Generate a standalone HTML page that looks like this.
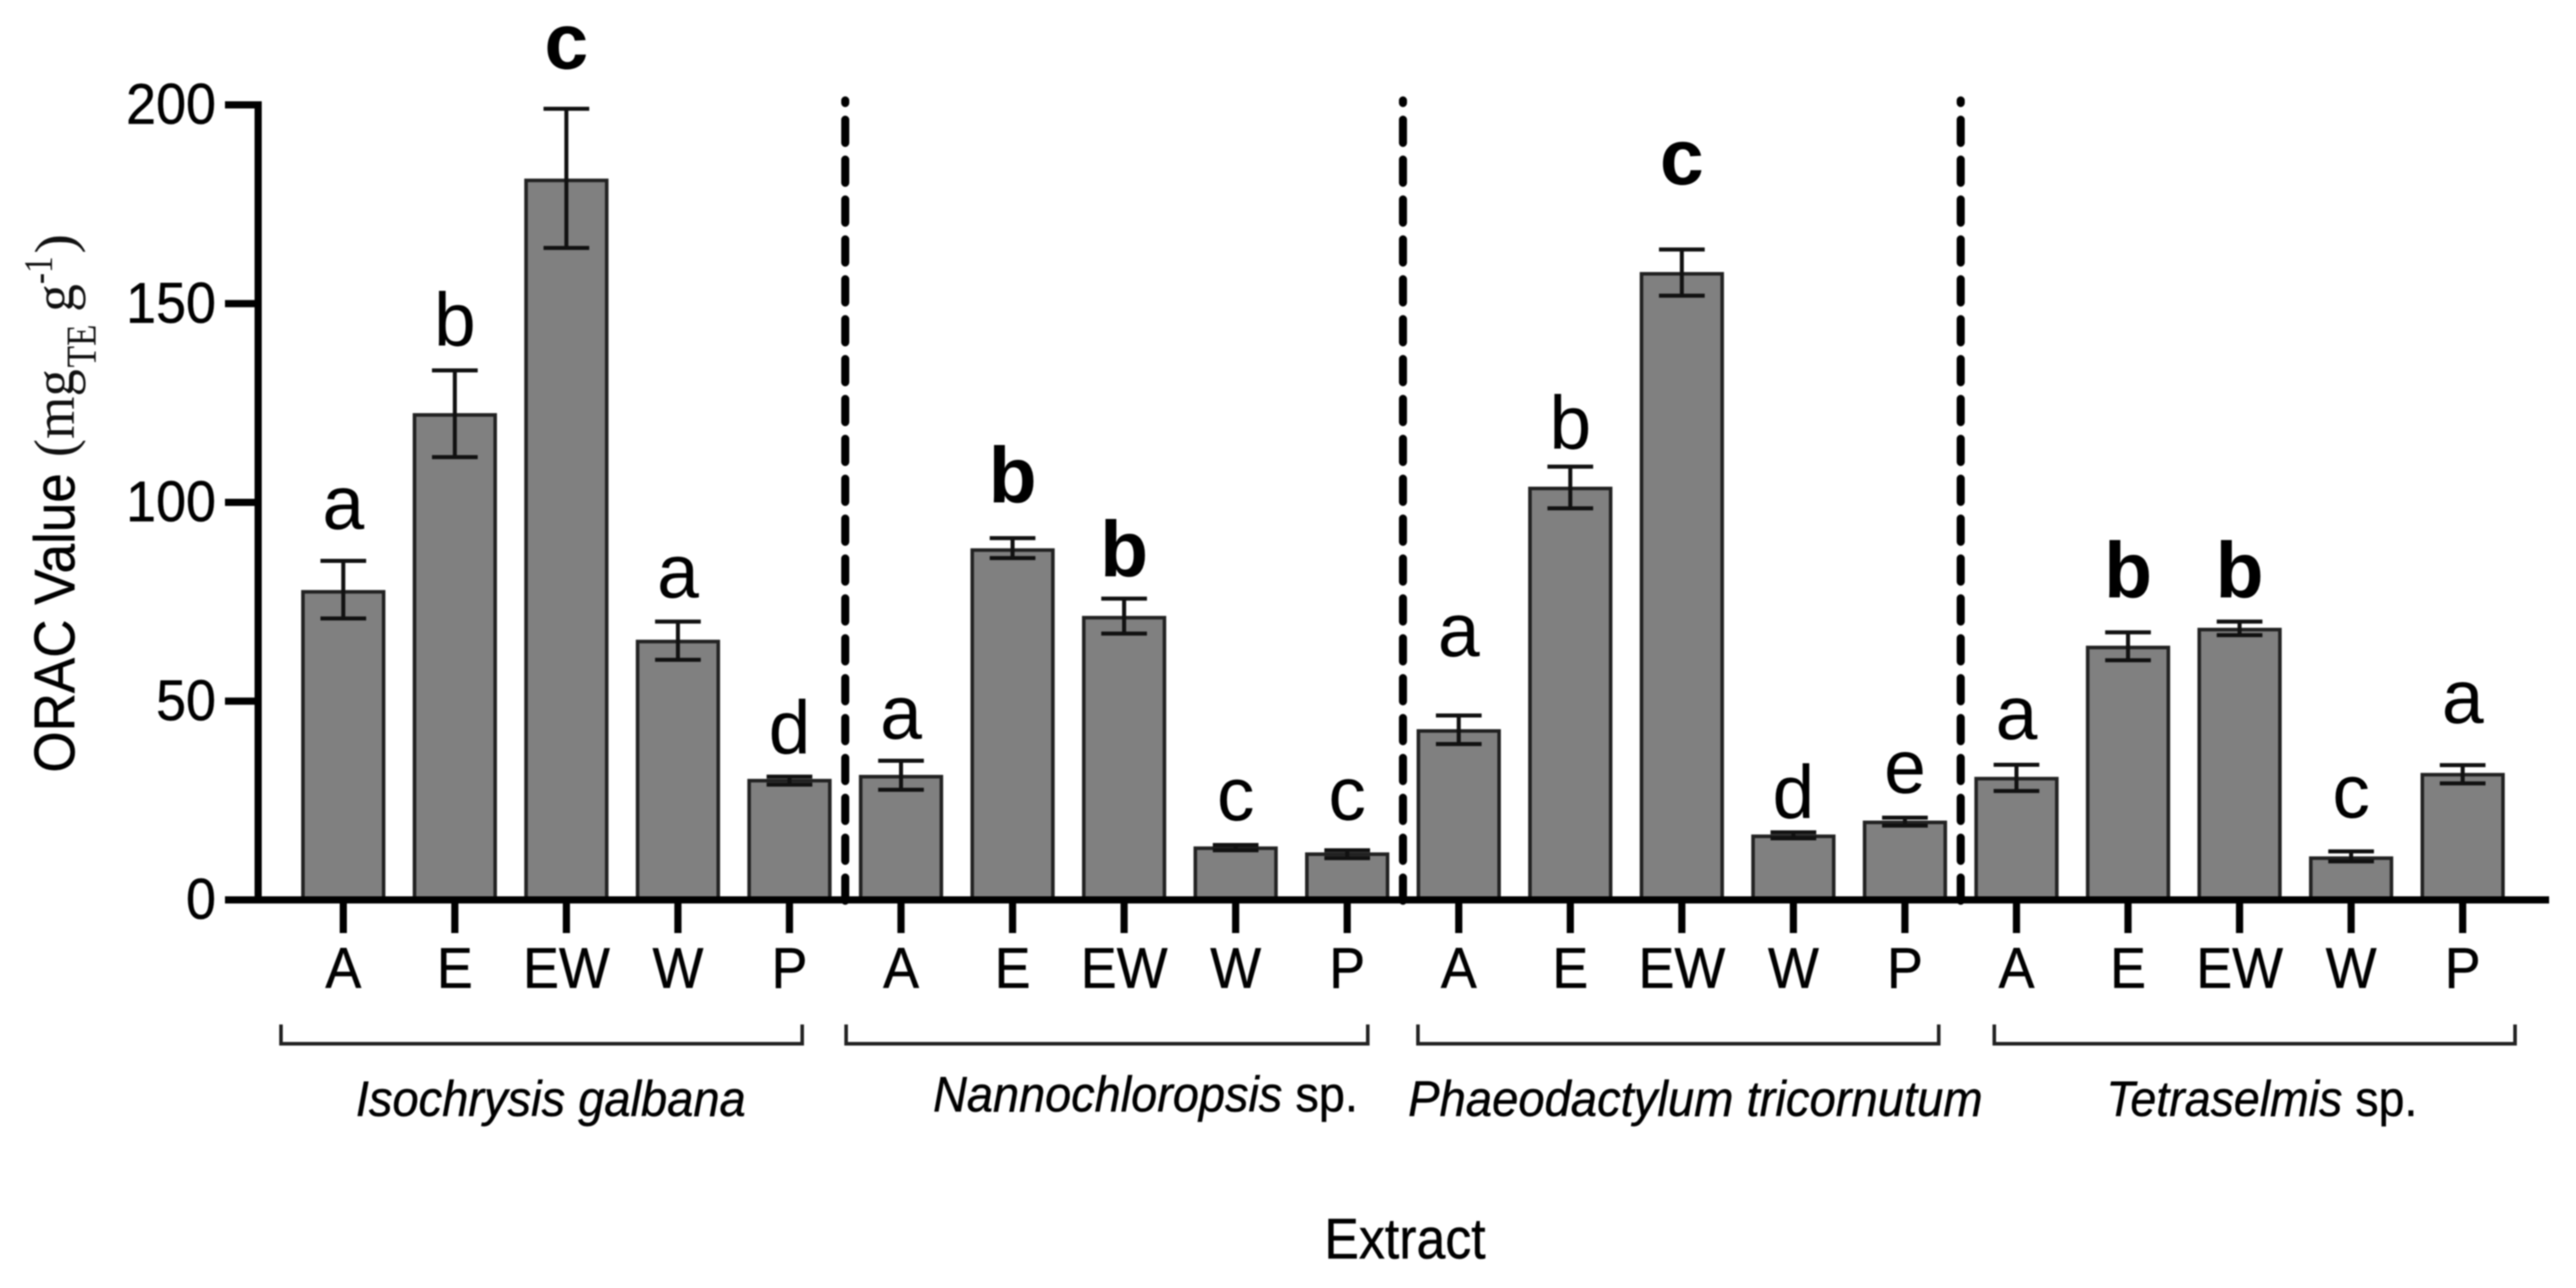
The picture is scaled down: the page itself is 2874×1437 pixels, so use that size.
<!DOCTYPE html>
<html lang="en">
<head>
<meta charset="utf-8">
<title>ORAC Value by Extract</title>
<style>
  html, body { margin: 0; padding: 0; background: #fff; }
  body { width: 2874px; height: 1437px; overflow: hidden; }
  svg { display: block; filter: blur(0.7px); }
  text { font-family: "Liberation Sans", Arial, sans-serif; fill: #000; }
  .serif { font-family: "Liberation Serif", "Times New Roman", serif; fill: #111; }
  .heavy { stroke: #000; stroke-width: 0.5px; }
</style>
</head>
<body>
<svg id="chart" xmlns="http://www.w3.org/2000/svg" width="2874" height="1437" viewBox="0 0 2874 1437">
  <rect x="0" y="0" width="2874" height="1437" fill="#ffffff"/>
  <g id="bars"></g>
  <g id="errors"></g>
  <g id="separators"></g>
  <g id="axes"></g>
  <g id="letters"></g>

  <g transform="translate(83,862) rotate(-90)">
    <text class="heavy" x="0" y="0" font-size="64" textLength="334" lengthAdjust="spacingAndGlyphs">ORAC Value</text>
    <text class="serif" x="352" y="-1" font-size="64" textLength="98" lengthAdjust="spacingAndGlyphs">(mg</text>
    <text class="serif" x="452" y="24" font-size="48" textLength="48" lengthAdjust="spacingAndGlyphs">TE</text>
    <text class="serif" x="514" y="-1" font-size="64" textLength="31" lengthAdjust="spacingAndGlyphs">g</text>
    <text class="serif" x="545" y="-25" font-size="46" textLength="31" lengthAdjust="spacingAndGlyphs">-1</text>
    <text class="serif" x="579" y="-1" font-size="62" textLength="22" lengthAdjust="spacingAndGlyphs">)</text>
  </g>

  <g fill="none" stroke="#222" stroke-width="4">
    <path d="M313.5 1143 V1164.5 H895 V1143"/>
    <path d="M944 1143 V1164.5 H1526 V1143"/>
    <path d="M1582 1143 V1164.5 H2163 V1143"/>
    <path d="M2225 1143 V1164.5 H2806 V1143"/>
  </g>

  <g font-size="56" class="heavy">
    <text x="397" y="1245" font-style="italic" textLength="435" lengthAdjust="spacingAndGlyphs">Isochrysis galbana</text>
    <text x="1041" y="1240" textLength="474" lengthAdjust="spacingAndGlyphs"><tspan font-style="italic">Nannochloropsis</tspan> sp.</text>
    <text x="1571" y="1245" font-style="italic" textLength="641" lengthAdjust="spacingAndGlyphs">Phaeodactylum tricornutum</text>
    <text x="2350" y="1245" textLength="347" lengthAdjust="spacingAndGlyphs"><tspan font-style="italic">Tetraselmis</tspan> sp.</text>
  </g>

  <text class="heavy" x="1477.5" y="1404" font-size="64" textLength="180" lengthAdjust="spacingAndGlyphs">Extract</text>
</svg>

<script>
// Chart data
const categories = ["A","E","EW","W","P","A","E","EW","W","P","A","E","EW","W","P","A","E","EW","W","P"];
const groupSizes = [5, 5, 5, 5];
const values   = [77.5,122,181,65,30, 31,88,71,13,11.5, 42.5,103.5,157.5,16,19.5, 30.5,63.5,68,10.5,31.5];
const errHigh  = [85.3,133.2,199,70,31, 35,91,75.8,13.8,12.5, 46.4,109,163.6,17,20.7, 34,67.3,70,12.2,33.9];
const errLow   = [70.8,111.4,164,60.4,29, 27.7,86,67,12.5,10.5, 39.2,98.5,152,15.5,18.7, 27.4,60.3,66.6,9.7,29.3];
const sigLetters = ["a","b","c","a","d", "a","b","b","c","c", "a","b","c","d","e", "a","b","b","c","a"];
const sigBold    = [0,0,1,0,0, 0,1,1,0,0, 0,0,1,0,0, 0,1,1,0,0];
const sigClearance = [8.1,6.3,10.1,6.1,5.9, 5.6,9,5.6,6.3,7.7, 14.9,4.5,16.5,3.6,6.3, 6.5,8.8,6.1,8.6,10.6];
const yTickValues = [0, 50, 100, 150, 200];
const yTickLabels = ["0", "50", "100", "150", "200"];

// Axis functions
const yZero = 1004, yPxPerUnit = 4.435;
const xFirst = 383, xStep = 124.45;
function yScale(v) { return yZero - v * yPxPerUnit; }
function xScale(i) { return xFirst + i * xStep; }

const NS = "http://www.w3.org/2000/svg";
function make(tag, parent) {
  const el = document.createElementNS(NS, tag);
  parent.appendChild(el);
  return el;
}
function setAll(el, attrs) {
  for (const k in attrs) el.setAttribute(k, attrs[k]);
}

const barsG = document.getElementById("bars");
const errorsG = document.getElementById("errors");
const sepG = document.getElementById("separators");
const axesG = document.getElementById("axes");
const lettersG = document.getElementById("letters");

const barWidth = 90, capHalf = 25.5;

values.forEach(function (v, i) {
  const x = xScale(i);

  const bar = make("rect", barsG);
  
  
  setAll(bar, { x: x - barWidth / 2, y: yScale(v), width: barWidth, height: yZero - yScale(v), fill: "#808080", stroke: "#222222", "stroke-width": 4 });

  const stem = make("line", errorsG);
  
  
  setAll(stem, { x1: x, x2: x, y1: yScale(errHigh[i]), y2: yScale(errLow[i]), stroke: "#111", "stroke-width": 4.5 });

  const capTop = make("line", errorsG);
  
  
  setAll(capTop, { x1: x - capHalf, x2: x + capHalf, y1: yScale(errHigh[i]), y2: yScale(errHigh[i]), stroke: "#111", "stroke-width": 4.5 });

  const capBottom = make("line", errorsG);
  
  
  setAll(capBottom, { x1: x - capHalf, x2: x + capHalf, y1: yScale(errLow[i]), y2: yScale(errLow[i]), stroke: "#111", "stroke-width": 4.5 });

  const letter = make("text", lettersG);
  
  
  setAll(letter, { x: x, y: yScale(errHigh[i] + sigClearance[i]), "font-size": sigBold[i] ? 88 : 84, "text-anchor": "middle", "font-weight": sigBold[i] ? "bold" : "normal" });
  letter.textContent = sigLetters[i];

  const tick = make("line", axesG);
  
  
  setAll(tick, { x1: x, x2: x, y1: yZero, y2: 1041, stroke: "#000", "stroke-width": 8 });

  const label = make("text", axesG);
  
  
  setAll(label, { transform: "translate(" + x + ",1102) scale(0.94,1)", "font-size": 64, "text-anchor": "middle", class: "heavy" });
  label.textContent = categories[i];
});

// Dashed separators sit midway between adjacent groups
let boundary = 0;
groupSizes.slice(0, -1).forEach(function (n) {
  boundary += n;
  const sx = (xScale(boundary - 1) + xScale(boundary)) / 2;
  const sep = make("line", sepG);
  
  
  setAll(sep, { x1: sx, x2: sx, y1: yScale(200) - 5, y2: 1006, stroke: "#000", "stroke-width": 9, "stroke-linecap": "round", "stroke-dasharray": "26 18.5", "stroke-dashoffset": 23 });
});

// Axis lines
const yAxis = make("line", axesG);


setAll(yAxis, { x1: 288, x2: 288, y1: yScale(200) - 4, y2: yZero + 4, stroke: "#000", "stroke-width": 8 });

const xAxis = make("line", axesG);


setAll(xAxis, { x1: 251, x2: 2844, y1: yZero, y2: yZero, stroke: "#000", "stroke-width": 8 });

yTickValues.forEach(function (v, i) {
  const t = make("line", axesG);
  
  
  setAll(t, { x1: 251, x2: 288, y1: yScale(v), y2: yScale(v), stroke: "#000", "stroke-width": 8 });

  const l = make("text", axesG);
  
  
  setAll(l, { transform: "translate(241," + (yScale(v) + 21) + ") scale(0.94,1)", "font-size": 64, "text-anchor": "end", class: "heavy" });
  l.textContent = yTickLabels[i];
});
</script>
</body>
</html>
